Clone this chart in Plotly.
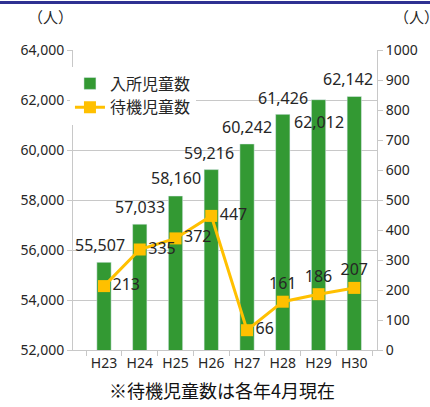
import plotly.graph_objects as go

categories = ["H23", "H24", "H25", "H26", "H27", "H28", "H29", "H30"]
enrolled = [55507, 57033, 58160, 59216, 60242, 61426, 62012, 62142]
waiting = [213, 335, 372, 447, 66, 161, 186, 207]
left_ticks = [52000, 54000, 56000, 58000, 60000, 62000, 64000]
right_ticks = [0, 100, 200, 300, 400, 500, 600, 700, 800, 900, 1000]

bar_name = "入所児童数"
line_name = "待機児童数"
unit_label = "（人）"
note = "※待機児童数は各年4月現在"

GREEN = "#339933"
GOLD = "#FFC000"
GRID = "#c8c8c8"
TXT = "#262626"
FONT = "Noto Sans, Noto Sans CJK JP, sans-serif"
JFONT = "Noto Sans CJK JP, sans-serif"

# label placement (style only)
bar_label_xshift = [-4, 0, 0, -2, 0, 0, 0, -6]
bar_label_yshift = [4, 4, 5, 4, 4, 3, -9, 4]
bar_label_anchor = ["bottom"] * 6 + ["top"] + ["bottom"]
line_text_pos = ["middle right"] * 5 + ["top center"] * 3

fig = go.Figure()
fig.add_trace(go.Bar(
    x=categories, y=enrolled, name=bar_name, marker_color=GREEN,
    legendgroup="a", yaxis="y",
))
fig.add_trace(go.Scatter(
    x=categories, y=waiting, name=line_name, mode="lines+markers+text",
    line=dict(color=GOLD, width=3), marker=dict(symbol="square", size=12, color=GOLD),
    text=[str(v) for v in waiting], textposition=line_text_pos,
    textfont=dict(size=16, color=TXT, family=FONT),
    legendgroup="b", yaxis="y2", cliponaxis=False,
))

annotations = []
for c, v, dx, dy, ya in zip(categories, enrolled, bar_label_xshift, bar_label_yshift, bar_label_anchor):
    annotations.append(dict(
        x=c, y=v, xref="x", yref="y", text=f"{v:,}", showarrow=False,
        yanchor=ya, xanchor="center", xshift=dx, yshift=dy,
        font=dict(size=16, color=TXT, family=FONT),
    ))
annotations += [
    dict(x=-0.075, y=1.11, xref="paper", yref="paper", text=unit_label, showarrow=False,
         font=dict(size=15, color=TXT, family=JFONT), xanchor="center", yanchor="middle"),
    dict(x=1.13, y=1.11, xref="paper", yref="paper", text=unit_label, showarrow=False,
         font=dict(size=15, color=TXT, family=JFONT), xanchor="center", yanchor="middle"),
    dict(x=0.49, y=-0.133, xref="paper", yref="paper", text=note, showarrow=False,
         font=dict(size=18, color="#111111", family=JFONT), xanchor="center", yanchor="middle"),
]

fig.update_layout(
    width=430, height=407,
    margin=dict(l=73, r=53, t=50, b=57),
    paper_bgcolor="white", plot_bgcolor="white",
    font=dict(family=FONT, color=TXT),
    bargap=0.6,
    showlegend=True,
    legend=dict(
        x=-0.01, y=0.945, xanchor="left", yanchor="top",
        bgcolor="white", font=dict(size=16, color=TXT, family=JFONT),
        traceorder="normal", tracegroupgap=11, itemwidth=30,
    ),
    xaxis=dict(
        type="category", showgrid=False, ticks="outside", tickson="boundaries",
        ticklen=5, tickcolor=GRID, showline=True, linecolor=GRID, linewidth=1,
        tickfont=dict(size=14, color=TXT, family=FONT),
    ),
    yaxis=dict(
        range=[52000, 64000], tickvals=left_ticks, tickformat=",",
        showgrid=True, gridcolor=GRID, gridwidth=1,
        showline=True, linecolor=GRID, ticks="outside", ticklen=5, tickcolor=GRID,
        tickfont=dict(size=14, color=TXT, family=FONT), zeroline=False,
    ),
    yaxis2=dict(
        range=[0, 1000], tickvals=right_ticks, overlaying="y", side="right",
        showgrid=False, showline=True, linecolor=GRID, ticks="outside", ticklen=5,
        tickcolor=GRID, tickfont=dict(size=14, color=TXT, family=FONT), zeroline=False,
    ),
    annotations=annotations,
    shapes=[dict(type="line", xref="paper", yref="paper", x0=-0.3, x1=1.3,
                 y0=1 + 47.5/300, y1=1 + 47.5/300, line=dict(color="#2e3192", width=3))],
)

fig.write_html("out.html", config={"displayModeBar": False},
               post_script="document.body.style.margin='0';")
